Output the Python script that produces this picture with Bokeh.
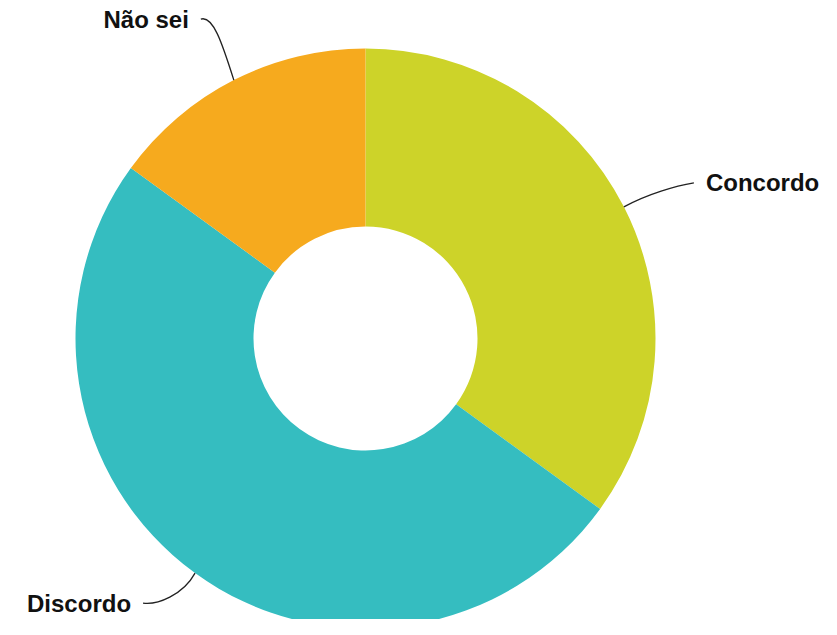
import math
from bokeh.plotting import figure
from bokeh.models import ColumnDataSource, Range1d
from bokeh.core.properties import value
from bokeh.embed import file_html
from bokeh.resources import INLINE

categories = ["Concordo", "Discordo", "Não sei"]
values = [35, 50, 15]
colors = ["#cdd329", "#35bdc0", "#f6aa1e"]

W, H = 821, 619
p = figure(width=W, height=H, output_backend="svg", toolbar_location=None,
           x_range=Range1d(0, W), y_range=Range1d(0, H), min_border=0)
p.axis.visible = False
p.grid.visible = False
p.outline_line_color = None
p.background_fill_color = "white"

cx, cy = 365, H - 338
R_out, R_in = 290, 112

total = float(sum(values))
starts, ends, mids = [], [], []
a = math.pi / 2
for v in values:
    sweep = 2 * math.pi * v / total
    starts.append(a)
    ends.append(a - sweep)
    mids.append(a - sweep / 2)
    a -= sweep

src = ColumnDataSource(dict(cat=categories, start=starts, end=ends, color=colors))
p.annular_wedge(x=cx, y=cy, inner_radius=R_in, outer_radius=R_out,
                start_angle="start", end_angle="end", direction="clock",
                color="color", line_color=None, source=src)

# leader geometry (offsets from slice anchor), styling only
leader = {
    "Concordo": dict(end=(70, 24), c0=(24, 13), c1=(-18, -3), align="left", tdx=12),
    "Discordo": dict(end=(-52, -30), c0=(-12, -22), c1=(14, -2), align="right", tdx=-12),
    "Não sei": dict(end=(-33, 61), c0=(-12, 38), c1=(12, 4), align="right", tdx=-12),
}

for cat, m in zip(categories, mids):
    ax = cx + R_out * math.cos(m)
    ay = cy + R_out * math.sin(m)
    g = leader[cat]
    ex, ey = ax + g["end"][0], ay + g["end"][1]
    p.bezier(x0=[ax], y0=[ay], x1=[ex], y1=[ey],
             cx0=[ax + g["c0"][0]], cy0=[ay + g["c0"][1]],
             cx1=[ex + g["c1"][0]], cy1=[ey + g["c1"][1]],
             line_color="#222222", line_width=1.3)
    p.text(x=[ex + g["tdx"]], y=[ey], text=[cat], text_align=g["align"],
           text_baseline="middle", text_font=value("Liberation Sans"),
           text_font_style="bold", text_font_size="24px", text_color="#111111")

open("out.html", "w").write(file_html(p, INLINE))
